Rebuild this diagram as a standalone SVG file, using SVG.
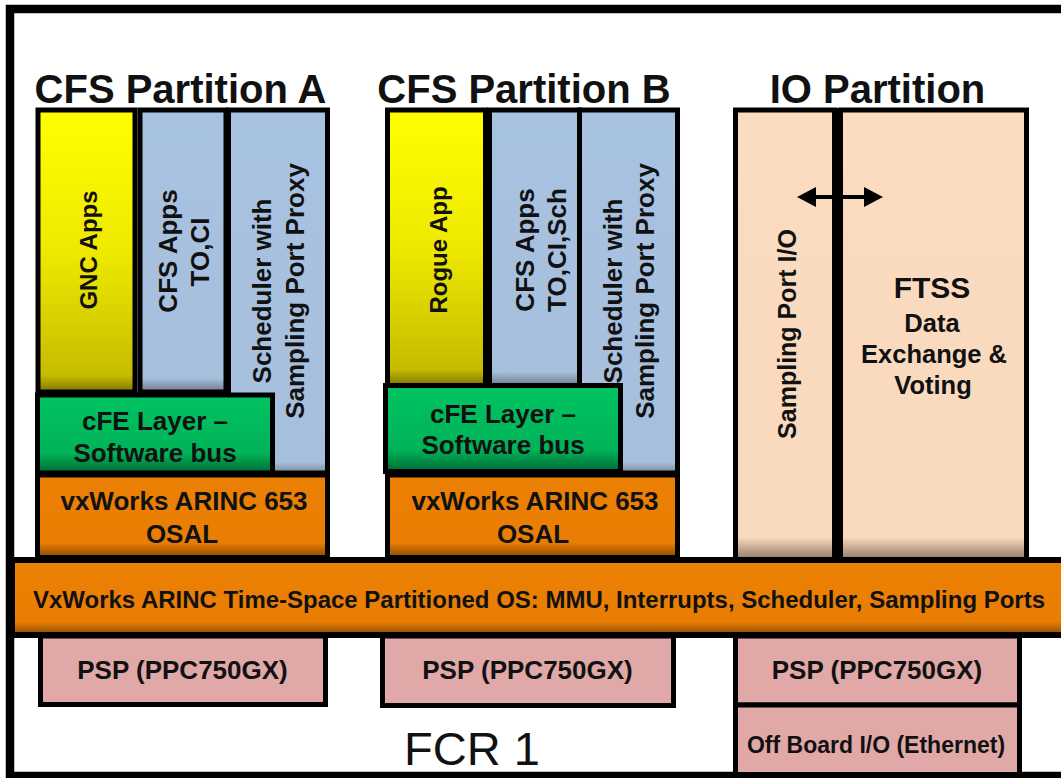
<svg xmlns="http://www.w3.org/2000/svg" width="1061" height="778" viewBox="0 0 1061 778">
<defs>
<style>
.b{stroke:#000;stroke-width:5}
.t{font-family:"Liberation Sans",Arial,sans-serif;font-weight:bold;fill:#111;text-anchor:middle}
.h{font-size:40px}
.v{font-size:26px}
.m{font-size:26px}
</style>
<linearGradient id="gy" x1="0" y1="0" x2="0" y2="1">
<stop offset="0" stop-color="#FFFF00"/><stop offset="0.5" stop-color="#EFE900"/><stop offset="0.94" stop-color="#C6BC00"/><stop offset="1" stop-color="#7E7600"/>
</linearGradient>
<linearGradient id="gb" x1="0" y1="0" x2="0" y2="1">
<stop offset="0" stop-color="#A8C2E1"/><stop offset="0.95" stop-color="#A6BFDD"/><stop offset="1" stop-color="#6F7C8E"/>
</linearGradient>
<linearGradient id="gb2" x1="0" y1="0" x2="0" y2="1">
<stop offset="0" stop-color="#A8C2E1"/><stop offset="0.97" stop-color="#A6BFDD"/><stop offset="1" stop-color="#7F8A9A"/>
</linearGradient>
<linearGradient id="gg" x1="0" y1="0" x2="0" y2="1">
<stop offset="0" stop-color="#00C462"/><stop offset="0.75" stop-color="#00B258"/><stop offset="1" stop-color="#006A35"/>
</linearGradient>
<linearGradient id="go" x1="0" y1="0" x2="0" y2="1">
<stop offset="0" stop-color="#EC8004"/><stop offset="0.82" stop-color="#E97E04"/><stop offset="1" stop-color="#8A4A02"/>
</linearGradient>
<linearGradient id="gp" x1="0" y1="0" x2="0" y2="1">
<stop offset="0" stop-color="#FBDCC0"/><stop offset="0.95" stop-color="#F9D9BD"/><stop offset="1" stop-color="#8C7766"/>
</linearGradient>
</defs>
<rect x="0" y="0" width="1061" height="778" fill="#fff"/>
<rect id="frame" x="10" y="9" width="1100" height="767" fill="#fff" stroke="#000" stroke-width="8.5"/>

<text class="t h" x="180.5" y="103">CFS Partition A</text>
<text class="t h" x="524" y="103">CFS Partition B</text>
<text class="t h" x="877.5" y="103">IO Partition</text>

<g id="partA">
<g id="gncApps"><rect class="b" x="38" y="110" width="97" height="282" fill="url(#gy)"/>
<text class="t" font-size="24" transform="translate(97,250) rotate(-90)">GNC Apps</text></g>
<g id="cfsAppsA"><rect class="b" x="140" y="110" width="86" height="282" fill="url(#gb)"/>
<text class="t v" transform="translate(177,251) rotate(-90)">CFS Apps</text>
<text class="t v" transform="translate(209,252) rotate(-90)">TO,CI</text></g>
<g id="schedA"><rect class="b" x="228.5" y="110" width="99" height="363" fill="url(#gb2)"/>
<text class="t v" transform="translate(271,291) rotate(-90)">Scheduler with</text>
<text class="t v" transform="translate(304,291) rotate(-90)">Sampling Port Proxy</text></g>
<g id="cfeA"><rect class="b" x="37.5" y="395" width="235" height="78" fill="url(#gg)"/>
<text class="t m" x="155" y="430">cFE Layer –</text>
<text class="t m" x="155" y="462">Software bus</text></g>
<g id="osalA"><rect class="b" x="37.5" y="475" width="290" height="82.5" fill="url(#go)"/>
<text class="t m" x="184" y="510">vxWorks ARINC 653</text>
<text class="t m" x="182" y="543">OSAL</text></g>
</g>

<g id="partB">
<g id="rogueApp"><rect class="b" x="387.5" y="110" width="98" height="275.5" fill="url(#gy)"/>
<text class="t" font-size="24" transform="translate(447,250) rotate(-90)">Rogue App</text></g>
<g id="cfsAppsB"><rect class="b" x="489.5" y="110" width="90" height="275.5" fill="url(#gb)"/>
<text class="t v" transform="translate(534,250) rotate(-90)">CFS Apps</text>
<text class="t v" transform="translate(566,250) rotate(-90)">TO,CI,Sch</text></g>
<g id="schedB"><rect class="b" x="579.5" y="110" width="98" height="363" fill="url(#gb2)"/>
<text class="t v" transform="translate(622,291) rotate(-90)">Scheduler with</text>
<text class="t v" transform="translate(654,291) rotate(-90)">Sampling Port Proxy</text></g>
<g id="cfeB"><rect class="b" x="385.5" y="385.5" width="235" height="86" fill="url(#gg)"/>
<text class="t m" x="503" y="423">cFE Layer –</text>
<text class="t m" x="503" y="454">Software bus</text></g>
<g id="osalB"><rect class="b" x="387.5" y="475" width="290" height="82.5" fill="url(#go)"/>
<text class="t m" x="535" y="510">vxWorks ARINC 653</text>
<text class="t m" x="533" y="543">OSAL</text></g>
</g>

<g id="partIO">
<g id="samplingIO"><rect class="b" x="735.5" y="110" width="99" height="450" fill="url(#gp)"/>
<text class="t" font-size="25" transform="translate(796,334) rotate(-90)">Sampling Port I/O</text></g>
<g id="ftss"><rect class="b" x="840.5" y="110" width="186" height="450" fill="url(#gp)"/>
<text class="t" font-size="30" x="932" y="298">FTSS</text>
<text class="t" font-size="25.5" x="932" y="332">Data</text>
<text class="t" font-size="25.5" x="934" y="363">Exchange &amp;</text>
<text class="t" font-size="25.5" x="933" y="394">Voting</text></g>
<rect x="832" y="108" width="11" height="452" fill="#000"/>
</g>

<g id="osBar"><rect x="12" y="560" width="1060" height="75" fill="url(#go)" stroke="#000" stroke-width="6"/>
<text class="t" font-size="24" x="539" y="608" textLength="1012" lengthAdjust="spacingAndGlyphs">VxWorks ARINC Time-Space Partitioned OS: MMU, Interrupts, Scheduler, Sampling Ports</text></g>

<g id="pspA"><rect class="b" x="40.5" y="636" width="285" height="68.5" fill="#E1A8A8"/>
<text class="t m" x="182.5" y="679">PSP (PPC750GX)</text></g>
<g id="pspB"><rect class="b" x="382.5" y="636" width="291" height="69.5" fill="#E1A8A8"/>
<text class="t m" x="527.5" y="679">PSP (PPC750GX)</text></g>
<g id="pspIO"><rect class="b" x="735.5" y="636" width="284" height="69" fill="#E1A8A8"/>
<text class="t m" x="877" y="679">PSP (PPC750GX)</text></g>
<g id="offBoard"><rect class="b" x="735.5" y="705" width="284" height="72" fill="#E1A8A8"/>
<text class="t" font-size="23" x="876" y="753">Off Board I/O (Ethernet)</text></g>

<line x1="10" y1="776" x2="1061" y2="776" stroke="#000" stroke-width="8"/>

<text id="fcr" x="404" y="765" font-family="'Liberation Sans',Arial,sans-serif" font-size="47" fill="#111">FCR 1</text>

<g id="connectors">
<line x1="812" y1="197" x2="868" y2="197" stroke="#000" stroke-width="4"/>
<path d="M797,197 L816,187 L816,207 Z M883,197 L864,187 L864,207 Z" fill="#000"/>
</g>
</svg>
